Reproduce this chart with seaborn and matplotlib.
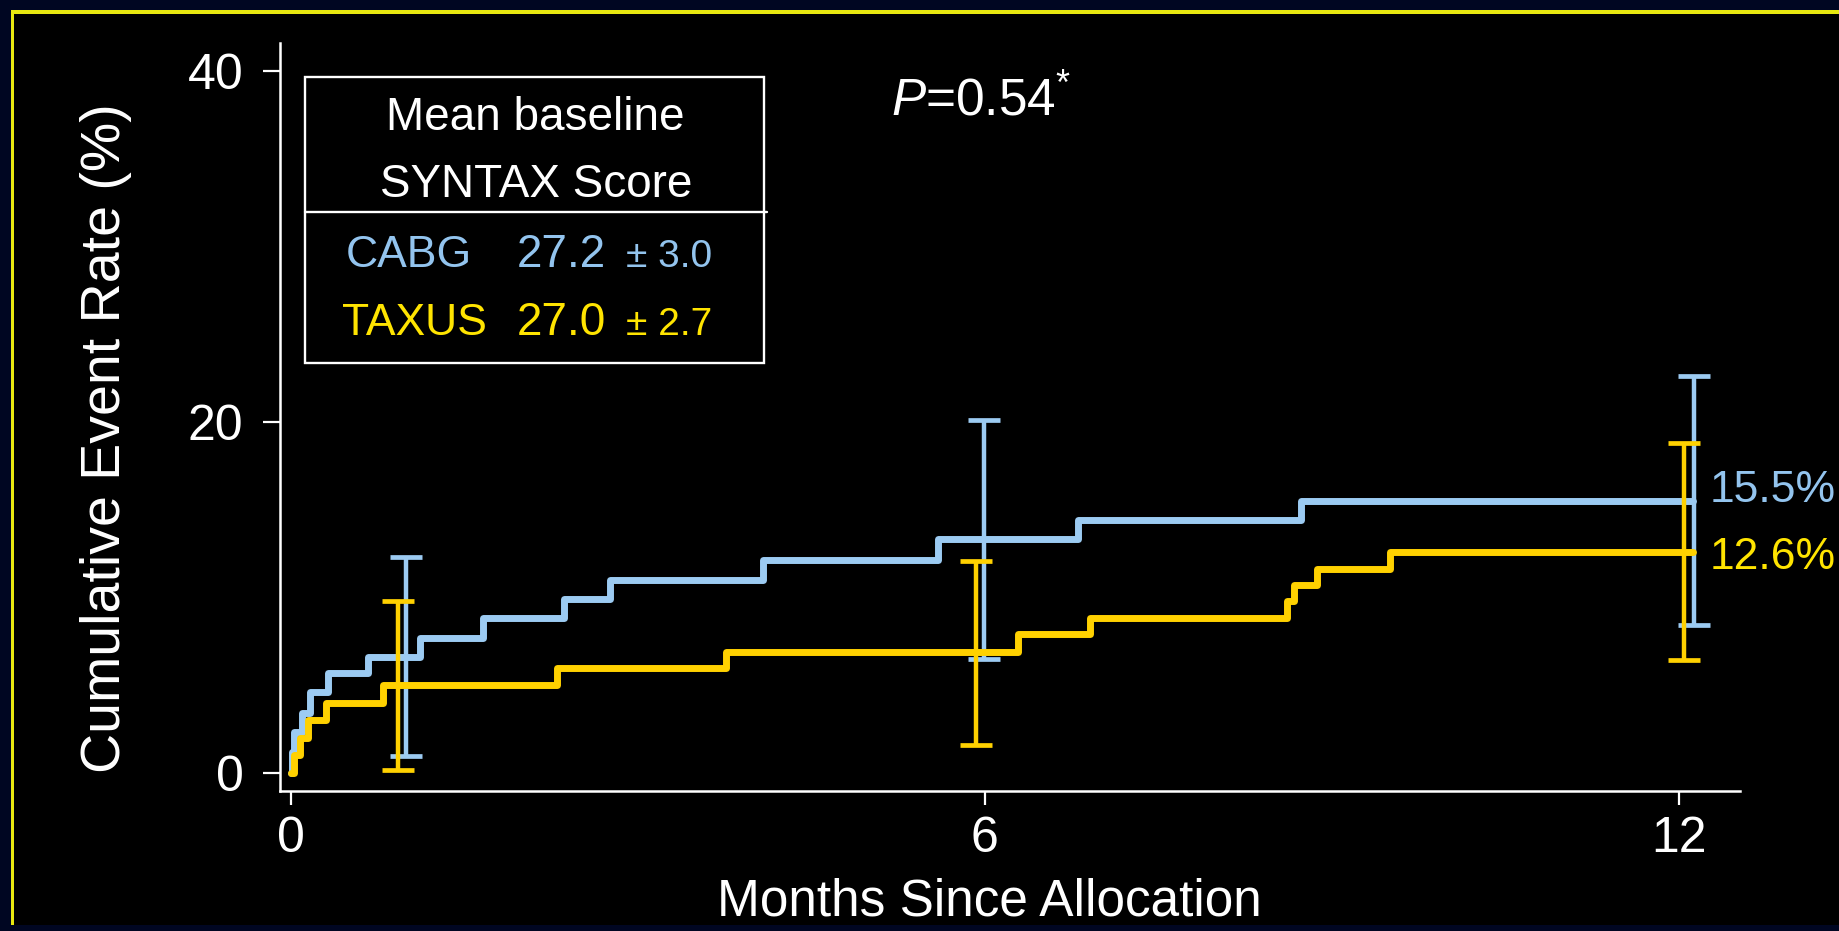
import numpy as np
import pandas as pd
import matplotlib
matplotlib.use("Agg")
import matplotlib.pyplot as plt
from matplotlib.patches import Rectangle
from matplotlib.lines import Line2D
from matplotlib import font_manager
import seaborn as sns

# ---------------- data ----------------
cabg_months = [0, 0.01, 0.03, 0.10, 0.17, 0.32, 0.67, 1.12, 1.66, 2.36, 2.76, 4.08, 5.60, 6.81, 8.73, 12.12]
cabg_rate = [0, 1.2, 2.3, 3.4, 4.6, 5.7, 6.6, 7.7, 8.8, 9.9, 11.0, 12.1, 13.3, 14.4, 15.5, 15.5]
taxus_months = [0, 0.03, 0.08, 0.15, 0.30, 0.80, 2.30, 3.76, 6.29, 6.91, 8.61, 8.67, 8.87, 9.50, 12.12]
taxus_rate = [0, 1.0, 2.0, 3.0, 4.0, 5.0, 6.0, 6.9, 7.9, 8.8, 9.8, 10.7, 11.6, 12.6, 12.6]

cabg_ci_months = [1.00, 5.99, 12.13]
cabg_ci_low = [0.96, 6.47, 8.40]
cabg_ci_high = [12.32, 20.09, 22.60]
taxus_ci_months = [0.93, 5.92, 12.05]
taxus_ci_low = [0.14, 1.56, 6.42]
taxus_ci_high = [9.81, 12.08, 18.82]

x_ticks = [0, 6, 12]
y_ticks = [0, 20, 40]
x_label = "Months Since Allocation"
y_label = "Cumulative Event Rate (%)"
p_value_text = r"$\mathit{P}$=0.54$^{*}$"
table_title = ["Mean baseline", "SYNTAX Score"]
table_groups = ["CABG", "TAXUS"]
table_means = ["27.2", "27.0"]
table_sds = ["± 3.0", "± 2.7"]

# ---------------- style ----------------
BLUE = "#9CCBF2"
BLUE_TXT = "#93C4EE"
GOLD = "#FFD100"
GOLD_TXT = "#FFE400"
WHITE = "#FFFFFF"

sns.set_theme(style="ticks", rc={
    "axes.facecolor": "black",
    "figure.facecolor": "black",
    "axes.edgecolor": WHITE,
    "xtick.color": WHITE,
    "ytick.color": WHITE,
    "text.color": WHITE,
    "axes.labelcolor": WHITE,
})
plt.rcParams["font.family"] = ["Liberation Sans", "DejaVu Sans"]
plt.rcParams["mathtext.fontset"] = "custom"
plt.rcParams["mathtext.rm"] = "Liberation Sans"
plt.rcParams["mathtext.it"] = "Liberation Sans:italic"

installed = {f.name for f in font_manager.fontManager.ttflist}
if "Liberation Sans Narrow" in installed:
    end_font, end_size = ["Liberation Sans Narrow"], 38
else:
    end_font, end_size = ["Liberation Sans"], 32

W_PX, H_PX = 1840, 931
fig = plt.figure(figsize=(W_PX / 100, H_PX / 100), dpi=100, facecolor="black")


def fx(px):
    return px / W_PX


def fy(py):
    return 1 - py / H_PX


ax_left, ax_right, ax_top, ax_bottom = 279.6, 1740.0, 43.0, 791.0
ax = fig.add_axes([fx(ax_left), fy(ax_bottom), fx(ax_right - ax_left), (ax_bottom - ax_top) / H_PX])
ax.set_facecolor("black")

# frame decoration (dark navy margin and yellow rule)
NAVY = "#000622"
YEL = "#E8E810"
for (x0, y0, w, h, c) in [
    (0, 0, W_PX, 10, NAVY),
    (0, 0, 11, H_PX, NAVY),
    (0, 925, W_PX, 6, NAVY),
    (11, 10, W_PX - 11, 3.5, YEL),
    (11, 10, 3, 915, YEL),
]:
    fig.patches.append(Rectangle((fx(x0), fy(y0 + h)), w / W_PX, h / H_PX,
                                 transform=fig.transFigure, facecolor=c,
                                 edgecolor="none", zorder=0))

# ---------------- curves ----------------
cabg_df = pd.DataFrame({"month": cabg_months, "rate": cabg_rate})
taxus_df = pd.DataFrame({"month": taxus_months, "rate": taxus_rate})


def value_at(months, rates, t):
    idx = np.searchsorted(np.asarray(months), np.asarray(t), side="right") - 1
    return np.asarray(rates)[idx]


def draw_errorbars(months, rates, ci_t, lo, hi, color, z):
    c = value_at(months, rates, ci_t)
    yerr = np.vstack([c - np.asarray(lo), np.asarray(hi) - c])
    ax.errorbar(ci_t, c, yerr=yerr, fmt="none", ecolor=color, elinewidth=3.2,
                capsize=11.5, capthick=3.4, zorder=z, clip_on=False)


sns.lineplot(data=cabg_df, x="month", y="rate", ax=ax, color=BLUE, lw=5.0,
             drawstyle="steps-post", estimator=None, sort=False, legend=False,
             zorder=3, clip_on=False)
draw_errorbars(cabg_months, cabg_rate, cabg_ci_months, cabg_ci_low, cabg_ci_high, BLUE, 4)
sns.lineplot(data=taxus_df, x="month", y="rate", ax=ax, color=GOLD, lw=5.0,
             drawstyle="steps-post", estimator=None, sort=False, legend=False,
             zorder=5, clip_on=False)
draw_errorbars(taxus_months, taxus_rate, taxus_ci_months, taxus_ci_low, taxus_ci_high, GOLD, 6)

# end labels
ax.text(12.27, cabg_rate[-1] + 0.6, f"{cabg_rate[-1]:.1f}%", color=BLUE_TXT,
        fontsize=end_size, family=end_font, va="center", ha="left", clip_on=False)
ax.text(12.27, taxus_rate[-1] - 0.35, f"{taxus_rate[-1]:.1f}%", color=GOLD_TXT,
        fontsize=end_size, family=end_font, va="center", ha="left", clip_on=False)

# ---------------- axes ----------------
ax.set_xlim(-0.097, 12.53)
ax.set_ylim(-1.04, 41.6)
ax.set_xticks(x_ticks)
ax.set_yticks(y_ticks)
ax.set_xticklabels([str(v) for v in x_ticks])
ax.set_yticklabels([str(v) for v in y_ticks])
ax.tick_params(axis="both", colors=WHITE, labelsize=36, width=1.6, direction="out")
ax.tick_params(axis="y", length=12, pad=14)
ax.tick_params(axis="x", length=10, pad=8)
sns.despine(ax=ax)
for s in ["left", "bottom"]:
    ax.spines[s].set_color(WHITE)
    ax.spines[s].set_linewidth(1.8)

ax.set_xlabel(x_label, fontsize=37, color=WHITE)
ax.xaxis.set_label_coords(fx(989), fy(916), transform=fig.transFigure)
ax.xaxis.label.set_verticalalignment("baseline")
ax.set_ylabel(y_label, fontsize=40, color=WHITE)
ax.yaxis.set_label_coords(fx(106), fy(438), transform=fig.transFigure)
ax.yaxis.label.set_verticalalignment("center")

# p value
fig.text(fx(891), fy(116), p_value_text, fontsize=37, color=WHITE, ha="left", va="baseline")

# ---------------- table box ----------------
bx0, by0, bx1, by1 = 304.6, 76.7, 763.8, 362.7
fig.patches.append(Rectangle((fx(bx0), fy(by1)), (bx1 - bx0) / W_PX, (by1 - by0) / H_PX,
                             transform=fig.transFigure, facecolor="none",
                             edgecolor=WHITE, lw=1.7, zorder=5))
fig.lines.append(Line2D([fx(bx0), fx(766.8)], [fy(212.3), fy(212.3)],
                        transform=fig.transFigure, color=WHITE, lw=1.7))
fig.text(fx(535.7), fy(130), table_title[0], fontsize=33, color=WHITE, ha="center", va="baseline")
fig.text(fx(535.7), fy(197), table_title[1], fontsize=33, color=WHITE, ha="center", va="baseline")

rows = [(267, BLUE_TXT, 346), (335, GOLD_TXT, 342)]
for (base, col, gx), g, m, sd in zip(rows, table_groups, table_means, table_sds):
    fig.text(fx(gx), fy(base), g, fontsize=32, color=col, ha="left", va="baseline")
    fig.text(fx(517), fy(base), m, fontsize=33, color=col, ha="left", va="baseline")
    fig.text(fx(626), fy(base), sd, fontsize=28, color=col, ha="left", va="baseline")

fig.savefig("out.png", dpi=100, facecolor="black")
